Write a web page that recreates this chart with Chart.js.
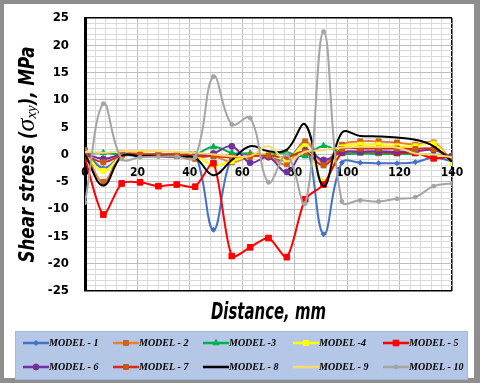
<!DOCTYPE html>
<html><head><meta charset="utf-8">
<script src="https://cdn.jsdelivr.net/npm/chart.js@4.4.1/dist/chart.umd.min.js"></script>
<style>
html,body{margin:0;padding:0;width:480px;height:383px;overflow:hidden;background:#fff;}
#frame{position:absolute;left:0;top:0;width:480px;height:383px;box-sizing:border-box;border-style:solid;border-color:#8e8e8e;border-width:4px 6px 5px 4px;background:#fff;}
#wrap{position:absolute;left:0;top:0;width:480px;height:383px;}
</style></head><body>
<div id="frame"></div>
<div id="wrap"><canvas id="c" width="480" height="383"></canvas></div>
<script>
// ---- data ----
const distances = [0,7,14,21,28,35,42,49,56,63,70,77,84,91,98,105,112,119,126,133,140];
const seriesNames = ['MODEL - 1','MODEL - 2','MODEL -3','MODEL -4','MODEL - 5','MODEL - 6','MODEL - 7','MODEL - 8','MODEL - 9','MODEL - 10'];
const model1  = [0.8,-2.5,-0.3,-0.3,-0.3,-0.3,0.0,-13.8,-0.5,0.0,-0.5,-1.0,2.0,-14.6,-1.5,-1.5,-1.6,-1.6,-1.4,-0.6,-1.2];
const model2  = [0.8,-5.0,0.2,0.2,0.0,-0.3,-0.8,-0.3,-1.4,-0.4,-0.4,-1.8,2.4,-1.5,1.8,2.4,2.4,2.2,1.8,2.2,-1.3];
const model3  = [0.2,0.3,0.0,0.0,-0.1,-0.1,0.0,1.4,0.3,0.2,0.0,0.3,-0.3,1.6,0.2,0.2,0.1,0.1,0.1,0.0,-0.2];
const model4  = [0.3,-3.0,-0.3,0.2,0.0,0.0,-0.2,-2.0,-1.2,-0.3,0.0,-0.9,1.5,-5.0,1.3,1.8,1.8,1.5,1.5,2.0,-1.5];
const model5  = [-0.7,-11.0,-5.3,-5.1,-5.8,-5.5,-5.9,-1.6,-18.6,-17.0,-15.3,-18.8,-8.2,-5.5,0.3,0.5,0.5,0.3,0.3,-0.7,-0.4];
const model6  = [0.2,-0.8,0.0,0.0,0.0,0.0,-0.2,0.2,1.5,-1.5,-0.5,-3.2,0.8,-1.0,0.4,0.5,0.6,0.5,0.6,0.8,-0.5];
const model7  = [0.0,-1.4,-0.2,0.0,0.0,0.0,-0.3,-0.3,-0.5,-0.3,-0.2,-0.5,0.5,-2.0,1.0,1.1,1.1,1.1,1.0,1.0,-0.8];
const model8  = [0.0,-5.7,-0.3,-0.3,-0.3,-0.5,-0.6,-3.8,-1.0,1.5,0.6,0.9,5.5,-5.8,4.0,3.4,3.3,3.1,2.7,1.5,-1.3];
const model9  = [0.5,0.3,0.6,0.7,0.6,0.5,0.3,0.0,-0.3,-0.3,1.5,-1.2,0.5,0.8,1.3,1.4,1.4,1.3,0.2,0.0,-0.5];
const model10 = [-8.8,9.3,-0.8,-0.5,-0.4,-0.4,-0.5,14.3,5.5,6.7,-5.1,0.0,-9.0,22.5,-8.6,-8.4,-8.6,-8.1,-7.8,-5.8,-5.3];
const xTickLabels = [0,20,40,60,80,100,120,140];
const yTickLabels = [-25,-20,-15,-10,-5,0,5,10,15,20,25];

const allSeries = [model1,model2,model3,model4,model5,model6,model7,model8,model9,model10];
const styles = [
  {line:'#4472c4', pt:'#4472c4', ps:'rectRot', r:2.5},
  {line:'#ed7d31', pt:'#c8651f', ps:'rect', r:3.5},
  {line:'#00b050', pt:'#00b050', ps:'triangle', r:3.5},
  {line:'#ffff00', pt:'#ffff00', ps:'rect', r:3.5},
  {line:'#ff0000', pt:'#ff0000', ps:'rect', r:4},
  {line:'#7030a0', pt:'#7030a0', ps:'circle', r:3},
  {line:'#d52b1e', pt:'#c55a11', ps:'rect', r:3.5},
  {line:'#000000', pt:'#000000', ps:'circle', r:0},
  {line:'#ffd966', pt:'#ffd966', ps:'circle', r:0},
  {line:'#a5a5a5', pt:'#a5a5a5', ps:'circle', r:2}
];

const datasets = allSeries.map((vals,i)=>({
  label: seriesNames[i],
  data: vals.map((v,j)=>({x:distances[j], y:v})),
  borderColor: styles[i].line,
  backgroundColor: styles[i].pt,
  pointBackgroundColor: styles[i].pt,
  pointBorderColor: styles[i].pt,
  pointStyle: styles[i].ps,
  pointRadius: styles[i].r,
  pointBorderWidth: 1,
  borderWidth: 2,
  tension: i===4 ? 0.25 : 0.4,
  order: 10 - i,
  fill: false
}));

const condFont = '"DejaVu Sans Condensed", "Liberation Sans Narrow", "DejaVu Sans", sans-serif';

const titlesPlugin = {
  id: 'titles',
  afterDraw(chart){
    const ctx = chart.ctx, ca = chart.chartArea;
    ctx.save();
    ctx.fillStyle = '#000';
    // x title
    ctx.font = 'bold italic 23px "DejaVu Sans", sans-serif';
    const xt = 'Distance, mm';
    const xw = ctx.measureText(xt).width;
    const sx = 115 / xw;
    ctx.save();
    ctx.translate((ca.left+ca.right)/2, 319);
    ctx.scale(sx,1);
    ctx.textAlign='center'; ctx.textBaseline='alphabetic';
    ctx.fillText(xt,0,0);
    ctx.restore();
    // y title with sigma
    const mainFont = 'bold italic 22px "DejaVu Sans", sans-serif';
    const sigFont = 'italic 26px "Liberation Serif", serif';
    const subFont = 'italic 15px "Liberation Serif", serif';
    const p1 = 'Shear stress (', p2 = '), MPa';
    ctx.font = mainFont;
    const w1 = ctx.measureText(p1).width, w2 = ctx.measureText(p2).width;
    ctx.font = sigFont; const ws = ctx.measureText('σ').width;
    ctx.font = subFont; const wx = ctx.measureText('xy').width;
    const target = 216;
    const k = (target - ws - wx) / (w1 + w2);
    ctx.save();
    ctx.translate(34, (ca.top+ca.bottom)/2);
    ctx.rotate(-Math.PI/2);
    ctx.textBaseline='alphabetic'; ctx.textAlign='left';
    let pos = -target/2;
    ctx.save(); ctx.translate(pos,0); ctx.scale(k,1); ctx.font=mainFont; ctx.fillText(p1,0,0); ctx.restore();
    pos += w1*k;
    ctx.font = sigFont; ctx.fillText('σ',pos,0); pos += ws;
    ctx.font = subFont; ctx.fillText('xy',pos,2); pos += wx;
    ctx.save(); ctx.translate(pos,0); ctx.scale(k,1); ctx.font=mainFont; ctx.fillText(p2,0,0); ctx.restore();
    ctx.restore();
    ctx.restore();
  }
};

const legendPlugin = {
  id: 'gridLegend',
  afterDraw(chart){
    const ctx = chart.ctx;
    ctx.save();
    ctx.fillStyle = '#b4c7e7';
    ctx.fillRect(15, 331, 453, 48);
    ctx.strokeStyle = '#a3b8de'; ctx.lineWidth = 1;
    ctx.strokeRect(15.5, 331.5, 452, 48);
    const cols = [23,113,203,293,383], rows = [343,367];
    chart.data.datasets.forEach((ds,i)=>{
      const x0 = cols[i%5], y = rows[Math.floor(i/5)];
      ctx.strokeStyle = ds.borderColor; ctx.lineWidth = 2.5;
      ctx.beginPath(); ctx.moveTo(x0,y); ctx.lineTo(x0+26,y); ctx.stroke();
      if (ds.pointRadius > 0) {
        ctx.fillStyle = ds.pointBackgroundColor; ctx.strokeStyle = ds.pointBorderColor; ctx.lineWidth = 1;
        Chart.helpers.drawPoint(ctx, {pointStyle: ds.pointStyle, radius: ds.pointRadius, rotation: 0, borderWidth: 1}, x0+13, y);
      }
      ctx.fillStyle = '#000';
      ctx.font = 'bold italic 10px "Liberation Serif", serif';
      ctx.textAlign = 'left'; ctx.textBaseline = 'middle';
      ctx.fillText(ds.label, x0+26, y+0.5);
    });
    ctx.restore();
  }
};

new Chart(document.getElementById('c'), {
  type: 'line',
  data: { datasets },
  plugins: [titlesPlugin, legendPlugin],
  options: {
    responsive: false,
    devicePixelRatio: 1,
    animation: false,
    layout: { padding: { left: 0, top: 18, right: 28, bottom: 92 } },
    plugins: { legend: { display: false }, tooltip: { enabled: false }, title: { display: false } },
    scales: {
      x: {
        type: 'linear', min: 0, max: 140,
        position: { y: 0 },
        border: { display: false },
        grid: {
          drawTicks: false,
          color: c => (c.tick.value === 140 || c.tick.value === 0) ? '#000' : (c.tick.value % 20 === 0 ? '#bdbdbd' : '#dadada'),
          lineWidth: c => (c.tick.value === 140) ? 1.5 : 1
        },
        ticks: {
          stepSize: 4, autoSkip: false, maxRotation: 0, padding: 11,
          color: '#000',
          font: { family: condFont, weight: 'bold', size: 12 },
          callback: v => xTickLabels.includes(v) ? String(v) : ''
        }
      },
      y: {
        min: -25, max: 25,
        border: { display: true, color: '#000', width: 3 },
        grid: {
          drawTicks: false,
          color: c => (Math.abs(c.tick.value) === 25) ? '#000' : (c.tick.value % 5 === 0 ? '#bdbdbd' : '#dadada'),
          lineWidth: c => (Math.abs(c.tick.value) === 25) ? 1.5 : 1
        },
        ticks: {
          stepSize: 1, autoSkip: false, padding: 16,
          color: '#000',
          font: { family: condFont, weight: 'bold', size: 13 },
          callback: v => yTickLabels.includes(v) ? String(v) : ''
        },
        afterFit: s => { s.width = 85; s.paddingTop = 0; s.paddingBottom = 0; }
      }
    }
  }
});
</script>
</body></html>
